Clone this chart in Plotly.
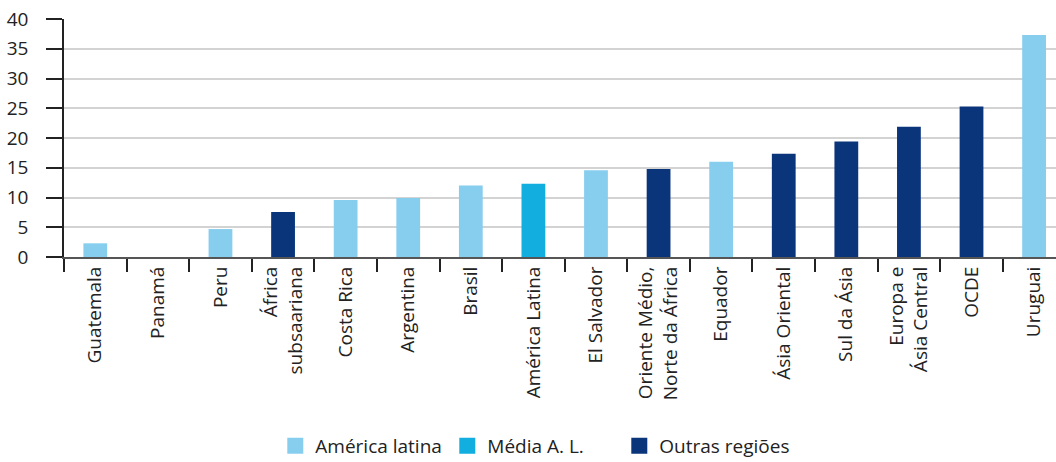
import plotly.graph_objects as go

categories = ["Guatemala", "Panamá", "Peru", "África<br>subsaariana", "Costa Rica",
              "Argentina", "Brasil", "América Latina", "El Salvador",
              "Oriente Médio,<br>Norte da África", "Equador", "Ásia Oriental",
              "Sul da Ásia", "Europa e<br>Ásia Central", "OCDE", "Uruguai"]
values = [2.3, 0, 4.7, 7.55, 9.6, 9.9, 12.0, 12.3, 14.6, 14.8, 16.0, 17.35, 19.4, 21.9, 25.3, 37.3]
groups = ["América latina", "América latina", "América latina", "Outras regiões",
          "América latina", "América latina", "América latina", "Média A. L.",
          "América latina", "Outras regiões", "América latina", "Outras regiões",
          "Outras regiões", "Outras regiões", "Outras regiões", "América latina"]
group_names = ["América latina", "Média A. L.", "Outras regiões"]
group_colors = {"América latina": "#87CEEE", "Média A. L.": "#12AEDF", "Outras regiões": "#0A357A"}
y_ticks = [0, 5, 10, 15, 20, 25, 30, 35, 40]

fig = go.Figure()
for g in group_names:
    xs = [c for c, gg in zip(categories, groups) if gg == g]
    ys = [v for v, gg in zip(values, groups) if gg == g]
    fig.add_trace(go.Bar(x=xs, y=ys, name=g, marker_color=group_colors[g],
                         marker_line_width=0, width=0.38, showlegend=False))
    fig.add_trace(go.Scatter(x=[None], y=[None], mode="markers", name=g,
                             marker=dict(symbol="square", size=16, color=group_colors[g]),
                             showlegend=True, hoverinfo="skip"))

font_family = "Open Sans, Noto Sans, sans-serif"
fig.update_layout(
    width=1056, height=462,
    margin=dict(l=64, r=0, t=19, b=205, autoexpand=False),
    plot_bgcolor="white", paper_bgcolor="white",
    barmode="overlay",
    font=dict(family=font_family, color="#222222"),
    legend=dict(orientation="h", x=0.213, xanchor="left", y=-0.714, yanchor="top",
                font=dict(size=19, color="#222222"), itemwidth=30,
                entrywidth=127, entrywidthmode="pixels",
                traceorder="normal", itemclick=False, tracegroupgap=0),
    showlegend=True,
)
fig.update_xaxes(
    type="category", categoryorder="array", categoryarray=categories,
    range=[-0.5, 15.35], tickangle=-90, tickson="boundaries",
    ticks="outside", ticklen=13, tickwidth=1.5, tickcolor="#222222",
    tickfont=dict(size=19, color="#222222"),
    showline=True, linecolor="#555555", linewidth=2,
    showgrid=False, automargin=False,
)
fig.update_yaxes(
    range=[0, 40], tickvals=y_ticks,
    ticks="outside", ticklen=16, tickwidth=1.5, tickcolor="#222222",
    tickfont=dict(size=19, color="#222222"), ticklabelstandoff=14,
    showline=True, linecolor="#222222", linewidth=1.5,
    showgrid=True, gridcolor="#d3d3d3", gridwidth=1.5,
    zeroline=False, automargin=False,
)
fig.write_html("out.html", config={"displayModeBar": False},
               post_script="document.body.style.margin='0px';document.body.style.overflow='hidden';")
